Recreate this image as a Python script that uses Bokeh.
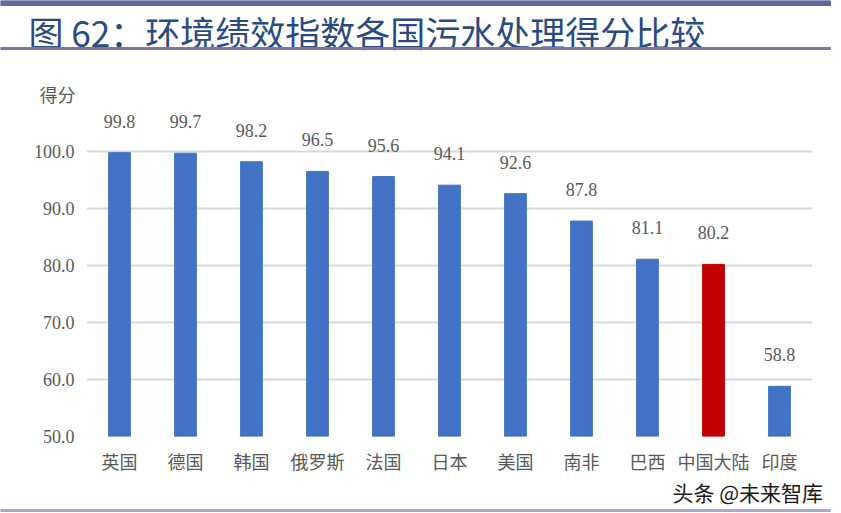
from bokeh.plotting import figure
from bokeh.layouts import column
from bokeh.models import (ColumnDataSource, FactorRange, FixedTicker, LabelSet,
                          CustomJSTickFormatter)
from bokeh.core.properties import value
from bokeh.embed import file_html
from bokeh.resources import INLINE

title_text = "图 62：环境绩效指数各国污水处理得分比较"
unit_text = "得分"
watermark_text = "头条 @未来智库"
countries = ["英国", "德国", "韩国", "俄罗斯", "法国", "日本", "美国", "南非", "巴西", "中国大陆", "印度"]
scores = [99.8, 99.7, 98.2, 96.5, 95.6, 94.1, 92.6, 87.8, 81.1, 80.2, 58.8]
highlight = "中国大陆"
y_ticks = [50, 60, 70, 80, 90, 100]

BLUE = "#4472C4"
RED = "#C00000"
GREY = "#595959"
W = 841


def blank(height):
    f = figure(width=W, height=height, x_range=(0, W), y_range=(height, 0),
               output_backend="svg", toolbar_location=None,
               x_axis_location=None, y_axis_location=None, min_border=0,
               outline_line_color=None, background_fill_color="white",
               border_fill_color="white", frame_align=False)
    f.xgrid.grid_line_color = None
    f.ygrid.grid_line_color = None
    return f


# ---- header: top bar, title, underline, unit label
head = blank(106)
head.quad(left=[0], right=[830], top=[0], bottom=[5], color="#6565A0")
head.text(x=[28], y=[31], text=[title_text], text_font=value("Noto Sans CJK SC"),
          text_font_size="35px", text_color="#2B4A82", text_baseline="middle")
head.quad(left=[0], right=[830], top=[47], bottom=[49], color="#7777A8")
head.text(x=[39], y=[93], text=[unit_text], text_font=value("Noto Sans CJK SC"),
          text_font_size="18px", text_color=GREY, text_baseline="middle")

# ---- main chart
colors = [RED if c == highlight else BLUE for c in countries]
labels = [f"{v:.1f}" for v in scores]
src = ColumnDataSource(dict(x=countries, top=scores, color=colors, label=labels))

p = figure(width=W, height=370, x_range=FactorRange(*countries),
           y_range=(50, 107.895), output_backend="svg", toolbar_location=None,
           min_border_left=86, min_border_right=29, min_border_top=0,
           min_border_bottom=40, outline_line_color=None,
           background_fill_color="white", border_fill_color="white",
           frame_align=False)

p.vbar(x="x", top="top", bottom=50, width=0.33, color="color", source=src)

p.add_layout(LabelSet(x="x", y="top", text="label", source=src, y_offset=25,
                      text_align="center", text_baseline="bottom",
                      text_font="Liberation Sans Narrow", text_font_size="18px",
                      text_color=GREY))

p.yaxis.ticker = FixedTicker(ticks=y_ticks)
p.yaxis.formatter = CustomJSTickFormatter(code="return tick.toFixed(1);")
p.yaxis.axis_line_color = None
p.yaxis.major_tick_line_color = None
p.yaxis.minor_tick_line_color = None
p.yaxis.major_tick_out = 0
p.yaxis.major_tick_in = 0
p.yaxis.major_label_standoff = 12
p.yaxis.major_label_text_font = "Liberation Sans Narrow"
p.yaxis.major_label_text_font_size = "18px"
p.yaxis.major_label_text_color = GREY

p.xaxis.axis_line_color = None
p.xaxis.major_tick_line_color = None
p.xaxis.major_tick_out = 0
p.xaxis.major_tick_in = 0
p.xaxis.major_label_standoff = 11
p.xaxis.major_label_text_font = "Noto Sans CJK SC"
p.xaxis.major_label_text_font_size = "18px"
p.xaxis.major_label_text_color = GREY

p.xgrid.grid_line_color = None
p.ygrid.grid_line_color = "#D9D9D9"
p.ygrid.grid_line_width = 2

# ---- footer: watermark and bottom rule
foot = blank(37)
foot.text(x=[672], y=[15], text=[watermark_text], text_font=value("Noto Sans CJK SC"),
          text_font_size="21px", text_color="#1A1A1A", text_baseline="middle")
foot.quad(left=[0], right=[830], top=[33], bottom=[35], color="#A9A9CC")

layout = column(head, p, foot, spacing=0)
open("out.html", "w").write(file_html(layout, INLINE))
